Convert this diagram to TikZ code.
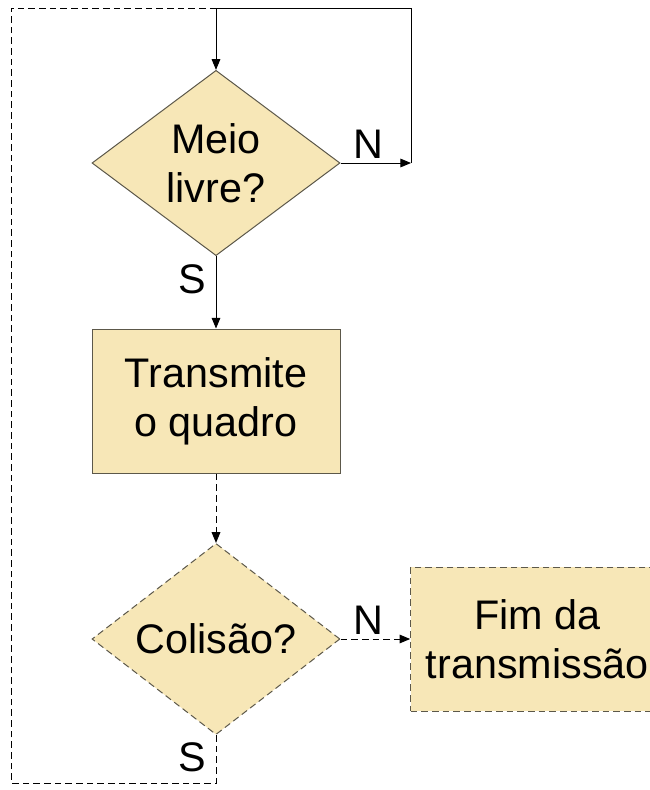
\documentclass[tikz,border=0pt]{standalone}
\usepackage{fontspec}
\setmainfont{Liberation Sans}
\usetikzlibrary{shapes.geometric,arrows.meta}
\definecolor{flow-beige}{RGB}{247,231,183}
\definecolor{flow-edge}{RGB}{92,88,74}

\begin{document}
\begin{tikzpicture}[x=0.75pt, y=-0.75pt, node distance=178.5pt,
		font=\fontsize{31}{37}\selectfont, line width=0.75pt,
		>={Triangle[length=8pt,width=6.5pt]},
		decision/.style={draw=flow-edge, fill=flow-beige, diamond, inner sep=0pt, minimum width=186pt, minimum height=139pt, align=center},
		process/.style={draw=flow-edge, fill=flow-beige, rectangle, inner sep=0pt, minimum width=186pt, minimum height=108pt, align=center},
		dashline/.style={dash pattern=on 5pt off 3pt}]
		
		\useasboundingbox (0,0) rectangle (650,790);
		
		% Draw the first test
		\node (meio) [decision] at (216,163) {Meio\\livre?};
		
		% Draw the transmit step
		\node (transmite) [process, below of=meio] {Transmite\\o quadro};
		
		% Draw the collision test
		\node (colisao) [decision, dashline, below of=transmite] {Colisão?};
		
		% Draw the end step
		\node (fim) [process, dashline, minimum width=190pt, right of=colisao, node distance=241pt] {Fim da\\transmissão};
		
		% Corners of the loops
		\coordinate (waitN) at (411,163);
		\coordinate (waitTop) at (411,8);
		\coordinate (retryTop) at (11,8);
		\coordinate (retryBot) at (11,783);
		
		% Connect the steps with arrows
		\draw[->] (meio.east) -- node[above, pos=0.4] {N} (waitN);
		\draw[->] (waitN) -- (waitTop) -| (meio.north);
		\draw[->] (meio.south) -- node[left=4pt, pos=0.32] {S} (transmite.north);
		\draw[->, dashline] (transmite.south) -- (colisao.north);
		\draw[->, dashline] (colisao.east) -- node[above, pos=0.4] {N} (fim.west);
		
		% Back to the start after a collision
		\draw[dashline] (colisao.south) -- node[left=4pt, pos=0.47] {S} (colisao.south |- retryBot) -- (retryBot) -- (retryTop) -- (retryTop -| meio.north);
	\end{tikzpicture}
\end{document}
